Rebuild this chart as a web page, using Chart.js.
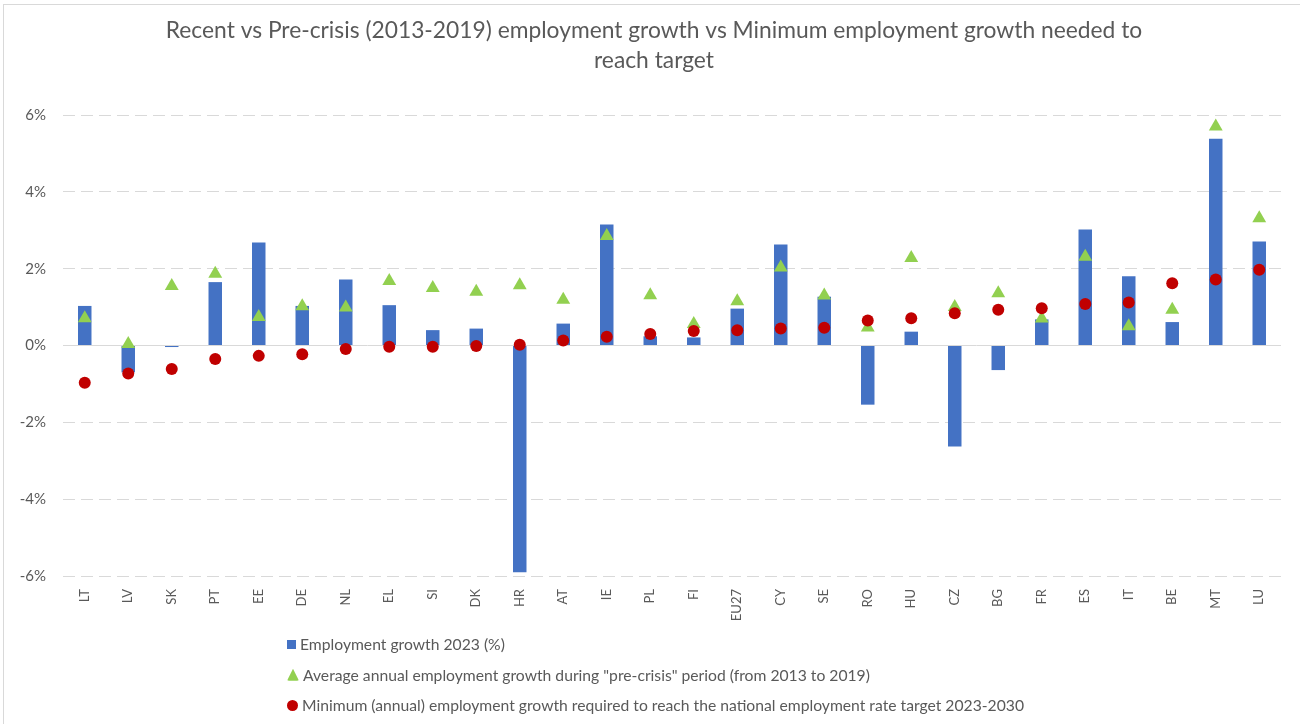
<!DOCTYPE html>
<html>
<head>
<meta charset="utf-8">
<script src="https://cdn.jsdelivr.net/npm/chart.js@4"></script>
<style>
  body { margin: 0; background: #fff; }
  .wrap { position: relative; width: 1300px; height: 724px; }
  .frame { position: absolute; left: 3px; top: 4px; width: 1300px; height: 730px; border: 1px solid #d9d9d9; pointer-events: none; }
  #legend { position: absolute; left: 287px; top: 629px; font-family: Lato, sans-serif; font-size: 15.7px; color: #595959; }
  #legend div { height: 30.5px; display: flex; align-items: center; }
  #legend i { display: inline-block; margin-right: 4px; }
</style>
</head>
<body>
<div class="wrap">
  <canvas id="myChart" width="1300" height="724"></canvas>
  <div class="frame"></div>
  <div id="legend"></div>
</div>
<script>
const categories = ['LT', 'LV', 'SK', 'PT', 'EE', 'DE', 'NL', 'EL', 'SI', 'DK', 'HR', 'AT', 'IE', 'PL',
    'FI', 'EU27', 'CY', 'SE', 'RO', 'HU', 'CZ', 'BG', 'FR', 'ES', 'IT', 'BE', 'MT', 'LU'];

// employment growth 2023 (%)
const growth2023 = [1.03, -0.70, -0.04, 1.65, 2.68, 1.03, 1.72, 1.05, 0.40, 0.44, -5.90, 0.57, 3.15, 0.24,
    0.21, 0.96, 2.63, 1.27, -1.54, 0.36, -2.63, -0.64, 0.68, 3.02, 1.80, 0.61, 5.38, 2.71];

// average annual growth 2013-2019
const preCrisis = [0.71, 0.04, 1.55, 1.87, 0.74, 1.02, 0.99, 1.68, 1.50, 1.40, 1.57, 1.19, 2.85, 1.31,
    0.56, 1.15, 2.03, 1.30, 0.47, 2.28, 1.00, 1.36, 0.70, 2.31, 0.50, 0.93, 5.70, 3.31];

// minimum annual growth needed 2023-2030
const minRequired = [-0.97, -0.73, -0.61, -0.35, -0.27, -0.23, -0.09, -0.03, -0.03, -0.01, 0.02, 0.13, 0.23, 0.30,
    0.38, 0.40, 0.44, 0.46, 0.65, 0.71, 0.84, 0.93, 0.97, 1.08, 1.12, 1.62, 1.72, 1.97];

const yTicks = [-6, -4, -2, 0, 2, 4, 6];

const grey = '#595959';

const data = {
    labels: categories,
    datasets: [
        {
            type: 'bar',
            label: 'Employment growth 2023 (%)',
            data: growth2023,
            backgroundColor: '#4472c4',
            barPercentage: 0.31,
            categoryPercentage: 1,
            order: 3
        },
        {
            type: 'line',
            label: 'Average annual employment growth during "pre-crisis" period (from 2013 to 2019)',
            data: preCrisis,
            showLine: false,
            pointStyle: 'triangle',
            pointRadius: 8,
            pointHoverRadius: 8,
            pointBorderWidth: 0,
            backgroundColor: '#92d050',
            borderColor: '#92d050',
            order: 2
        },
        {
            type: 'line',
            label: 'Minimum (annual) employment growth required to reach the national employment rate target 2023-2030',
            data: minRequired,
            showLine: false,
            pointStyle: 'circle',
            pointRadius: 6,
            pointHoverRadius: 6,
            pointBorderWidth: 0,
            backgroundColor: '#c00000',
            borderColor: '#c00000',
            order: 1
        }
    ]
};

// the title sits a bit right of the plot centre in the original
const titleShift = {
    id: 'titleShift',
    afterLayout(chart) {
        if (chart.titleBlock) chart.titleBlock.left += 27;
    }
};

const config = {
    type: 'bar',
    data: data,
    plugins: [titleShift],
    options: {
        responsive: false,
        animation: false,
        layout: { padding: { left: 0, right: 19, top: 16, bottom: 0 } },
        plugins: {
            legend: { display: false },
            tooltip: { enabled: false },
            title: {
                display: true,
                text: ['Recent vs Pre-crisis (2013-2019) employment growth vs Minimum employment growth needed to',
                    'reach target'],
                color: grey,
                font: { family: 'Lato', size: 22.8, weight: 'normal', lineHeight: '30px' },
                padding: { top: 0, bottom: 39 }
            }
        },
        scales: {
            x: {
                grid: { display: false },
                border: { display: false },
                ticks: {
                    color: grey,
                    font: { family: 'Lato', size: 13 },
                    minRotation: 90,
                    maxRotation: 90,
                    padding: 5,
                    autoSkip: false
                },
                afterFit: function (scale) { scale.height = 148; }
            },
            y: {
                min: -6,
                max: 6,
                afterBuildTicks: function (scale) {
                    scale.ticks = yTicks.map(v => ({ value: v }));
                },
                grid: {
                    color: '#d9d9d9',
                    lineWidth: 1,
                    drawTicks: false
                },
                border: {
                    display: false,
                    dash: function (ctx) {
                        return ctx.tick && ctx.tick.value === 0 ? [] : [12, 6];
                    }
                },
                ticks: {
                    color: grey,
                    font: { family: 'Lato', size: 15 },
                    padding: 17,
                    callback: function (value) {
                        return value + '%';
                    }
                },
                afterFit: function (scale) { scale.width = 63; }
            }
        }
    }
};

const myChart = new Chart(document.getElementById('myChart'), config);

// legend, one line per series
const shapes = [
    'background:#4472c4;width:9px;height:9px;',
    'background:#92d050;width:12px;height:12px;clip-path:polygon(50% 0,100% 100%,0 100%);border-radius:2px;',
    'background:#c00000;width:11px;height:11px;border-radius:50%;'
];
const legendBox = document.getElementById('legend');
myChart.data.datasets.forEach(function (ds, i) {
    const row = document.createElement('div');
    const mark = document.createElement('i');
    mark.style.cssText = shapes[i];
    row.appendChild(mark);
    row.appendChild(document.createTextNode(ds.label));
    legendBox.appendChild(row);
});
</script>
</body>
</html>
